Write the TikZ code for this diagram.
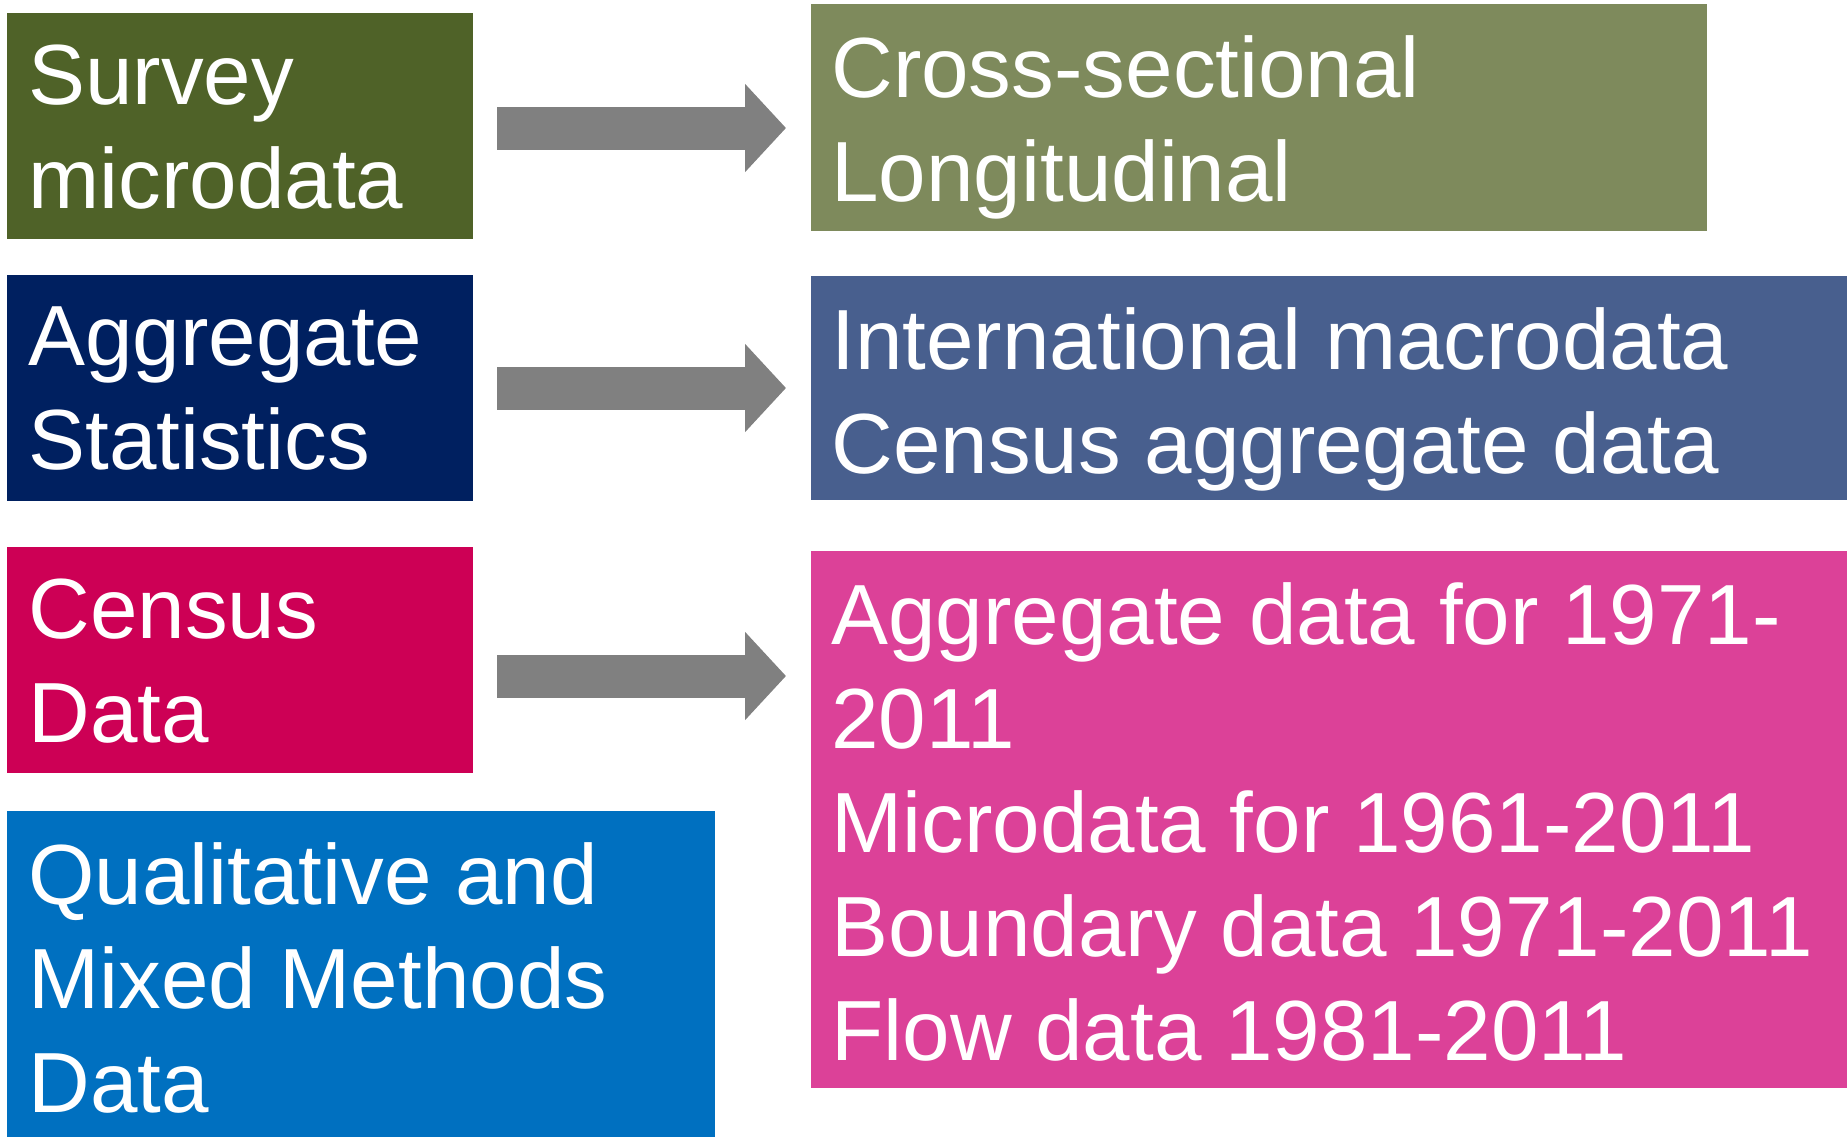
\documentclass[tikz,border=0pt]{standalone}
\usepackage{fontspec}
\setmainfont{Liberation Sans}
\usetikzlibrary{arrows.meta}
\definecolor{surveygreen}{HTML}{4F6228}
\definecolor{crossgreen}{HTML}{7E8A5C}
\definecolor{aggnavy}{HTML}{002060}
\definecolor{macroblue}{HTML}{485F8E}
\definecolor{censusred}{HTML}{CD0055}
\definecolor{censuspink}{HTML}{DC4198}
\definecolor{qualblue}{HTML}{0070C0}
\definecolor{arrowgray}{HTML}{808080}
\tikzset{
  box/.style={anchor=north west, inner sep=0pt, outer sep=0pt},
  boxtext/.style={anchor=north west, inner sep=0pt, align=left, text=white,
    font=\fontsize{42.7}{52}\selectfont},
  bigarrow/.style={draw=arrowgray, line width=21.5pt,
    -{Triangle[length=20.5pt, width=43pt]}, shorten <=12pt, shorten >=12.5pt}
}
\begin{document}
\begin{tikzpicture}[x=0.5pt, y=-0.5pt]
  \useasboundingbox (0,0) rectangle (1847,1137);
  % left column
  \node [box, fill=surveygreen, minimum width=233pt, minimum height=113pt] (survey) at (7,13) {};
  \node [box, fill=aggnavy, minimum width=233pt, minimum height=113pt] (aggstats) at (7,275) {};
  \node [box, fill=censusred, minimum width=233pt, minimum height=113pt] (census) at (7,547) {};
  \node [box, fill=qualblue, minimum width=354pt, minimum height=163pt] (qualmix) at (7,811) {};
  % right column
  \node [box, fill=crossgreen, minimum width=448pt, minimum height=113.5pt] (crosslong) at (811,4) {};
  \node [box, fill=macroblue, minimum width=518pt, minimum height=112pt] (macro) at (811,276) {};
  \node [box, fill=censuspink, minimum width=518pt, minimum height=268.5pt] (censusout) at (811,551) {};
  % texts
  \node [boxtext] (survey-t) at ([shift={(10.5pt,-15.5pt)}]survey.north west) {Survey\\microdata};
  \node [boxtext] (aggstats-t) at ([shift={(10.5pt,-15.5pt)}]aggstats.north west) {Aggregate\\Statistics};
  \node [boxtext] (census-t) at ([shift={(10.5pt,-15.5pt)}]census.north west) {Census\\Data};
  \node [boxtext] (qualmix-t) at ([shift={(10.5pt,-15.5pt)}]qualmix.north west) {Qualitative and\\Mixed Methods\\Data};
  \node [boxtext] (crosslong-t) at ([shift={(10pt,-15.5pt)}]crosslong.north west) {Cross-sectional\\Longitudinal};
  \node [boxtext] (macro-t) at ([shift={(10pt,-15.5pt)}]macro.north west) {International macrodata\\Census aggregate data};
  \node [boxtext] (censusout-t) at ([shift={(10pt,-15.5pt)}]censusout.north west) {Aggregate data for 1971-\\2011\\Microdata for 1961-2011\\Boundary data 1971-2011\\Flow data 1981-2011};
  % arrows
  \coordinate (a1) at ([yshift=-1pt]survey.east);
  \coordinate (a3) at ([yshift=-8pt]census.east);
  \draw [bigarrow] (a1) -- (a1 -| crosslong.west);
  \draw [bigarrow] (aggstats.east) -- (aggstats.east -| macro.west);
  \draw [bigarrow] (a3) -- (a3 -| censusout.west);
\end{tikzpicture}
\end{document}
